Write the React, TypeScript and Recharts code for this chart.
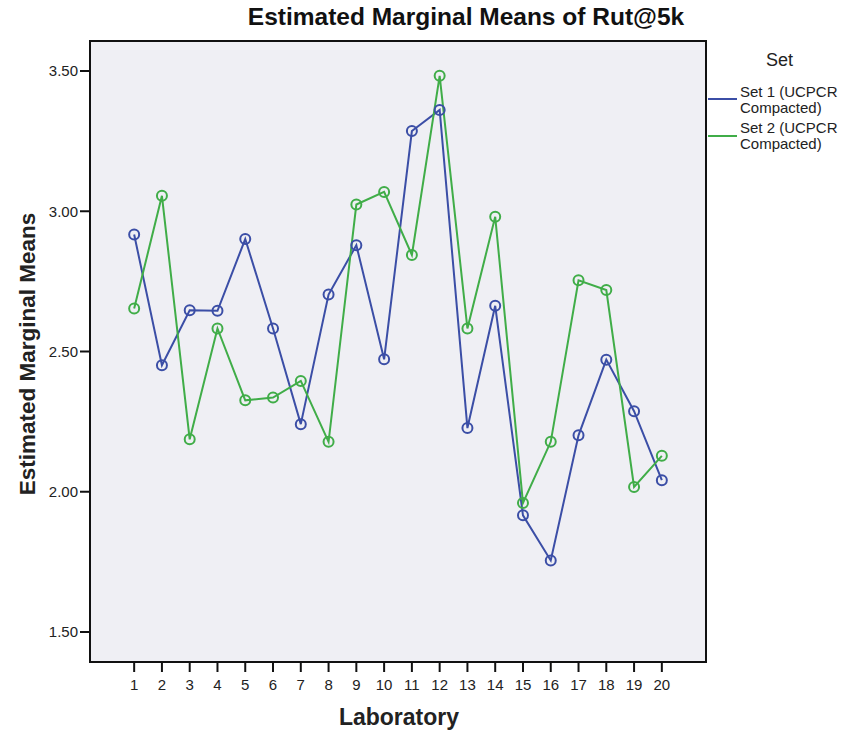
import { LineChart, Line, XAxis, YAxis, CartesianGrid, ReferenceArea } from 'recharts';

// Laboratory 1..20, estimated marginal means of Rut@5k
const labs = [1, 2, 3, 4, 5, 6, 7, 8, 9, 10, 11, 12, 13, 14, 15, 16, 17, 18, 19, 20];
const set1 = [2.917, 2.451, 2.647, 2.645, 2.901, 2.582, 2.241, 2.703, 2.879, 2.472, 3.286, 3.361, 2.227, 2.663, 1.916, 1.755, 2.201, 2.471, 2.287, 2.041];
const set2 = [2.653, 3.055, 2.187, 2.582, 2.326, 2.336, 2.395, 2.178, 3.024, 3.069, 2.844, 3.483, 2.582, 2.98, 1.96, 2.178, 2.754, 2.719, 2.017, 2.128];
const yTicks = [1.5, 2.0, 2.5, 3.0, 3.5];

const BLUE = '#3b4ea6';
const GREEN = '#40ad48';
const FONT = '"Liberation Sans", Arial, sans-serif';

const data = labs.map((lab, i) => ({ lab, set1: set1[i], set2: set2[i] }));

const xDomain: [number, number] = [-0.59, 21.59];
const yDomain: [number, number] = [1.393, 3.607];

const dot = (color: string) => ({ r: 5, fill: 'none', stroke: color, strokeWidth: 2 });

export default function App() {
  return (
    <div style={{ position: 'absolute', left: 0, top: 0, width: 849, height: 736, background: '#fff', fontFamily: FONT }}>
      <LineChart width={849} height={736} data={data} margin={{ top: 41, right: 143, bottom: 0, left: 0 }}>
        <CartesianGrid fill="#efeff4" stroke="none" horizontal={false} vertical={false} />
        {/* plot frame */}
        <ReferenceArea x1={xDomain[0]} x2={xDomain[1]} y1={yDomain[0]} y2={yDomain[1]} fill="none" fillOpacity={0} stroke="#111" strokeWidth={2} ifOverflow="extendDomain" />
        <XAxis
          dataKey="lab"
          type="number"
          domain={xDomain}
          ticks={labs}
          interval={0}
          height={74}
          tickSize={10}
          tickMargin={7}
          axisLine={{ stroke: '#111', strokeWidth: 2 }}
          tickLine={{ stroke: '#111', strokeWidth: 2 }}
          tick={{ fontSize: 15, fill: '#222', fontFamily: FONT }}
          allowDataOverflow
        />
        <YAxis
          type="number"
          domain={yDomain}
          ticks={yTicks}
          width={90}
          tickSize={10}
          tickMargin={2}
          tickFormatter={(v: number) => v.toFixed(2)}
          axisLine={{ stroke: '#111', strokeWidth: 2 }}
          tickLine={{ stroke: '#111', strokeWidth: 2 }}
          tick={{ fontSize: 15, fill: '#222', fontFamily: FONT }}
          allowDataOverflow
        />
        <Line dataKey="set1" stroke={BLUE} strokeWidth={2} dot={dot(BLUE)} activeDot={false} isAnimationActive={false} />
        <Line dataKey="set2" stroke={GREEN} strokeWidth={2} dot={dot(GREEN)} activeDot={false} isAnimationActive={false} />
      </LineChart>

      <div style={{ position: 'absolute', left: 216, width: 500, top: 3, textAlign: 'center', fontSize: 24.5, fontWeight: 'bold', color: '#111', whiteSpace: 'nowrap' }}>
        Estimated Marginal Means of Rut@5k
      </div>
      <div style={{ position: 'absolute', left: 299, width: 200, top: 704, textAlign: 'center', fontSize: 23, fontWeight: 'bold', color: '#222' }}>
        Laboratory
      </div>
      <div style={{ position: 'absolute', left: 28 - 150, top: 354 - 13, width: 300, height: 26, lineHeight: '26px', textAlign: 'center', fontSize: 22.5, fontWeight: 'bold', color: '#222', transform: 'rotate(-90deg)', whiteSpace: 'nowrap' }}>
        Estimated Marginal Means
      </div>

      <div style={{ position: 'absolute', left: 766, top: 50, fontSize: 18, color: '#222' }}>Set</div>
      <div style={{ position: 'absolute', left: 708, top: 98, width: 29, height: 2, background: BLUE }} />
      <div style={{ position: 'absolute', left: 740, top: 84, fontSize: 15, lineHeight: '16px', color: '#222' }}>
        Set 1 (UCPCR<br />Compacted)
      </div>
      <div style={{ position: 'absolute', left: 708, top: 135, width: 29, height: 2, background: GREEN }} />
      <div style={{ position: 'absolute', left: 740, top: 120, fontSize: 15, lineHeight: '16px', color: '#222' }}>
        Set 2 (UCPCR<br />Compacted)
      </div>
    </div>
  );
}
